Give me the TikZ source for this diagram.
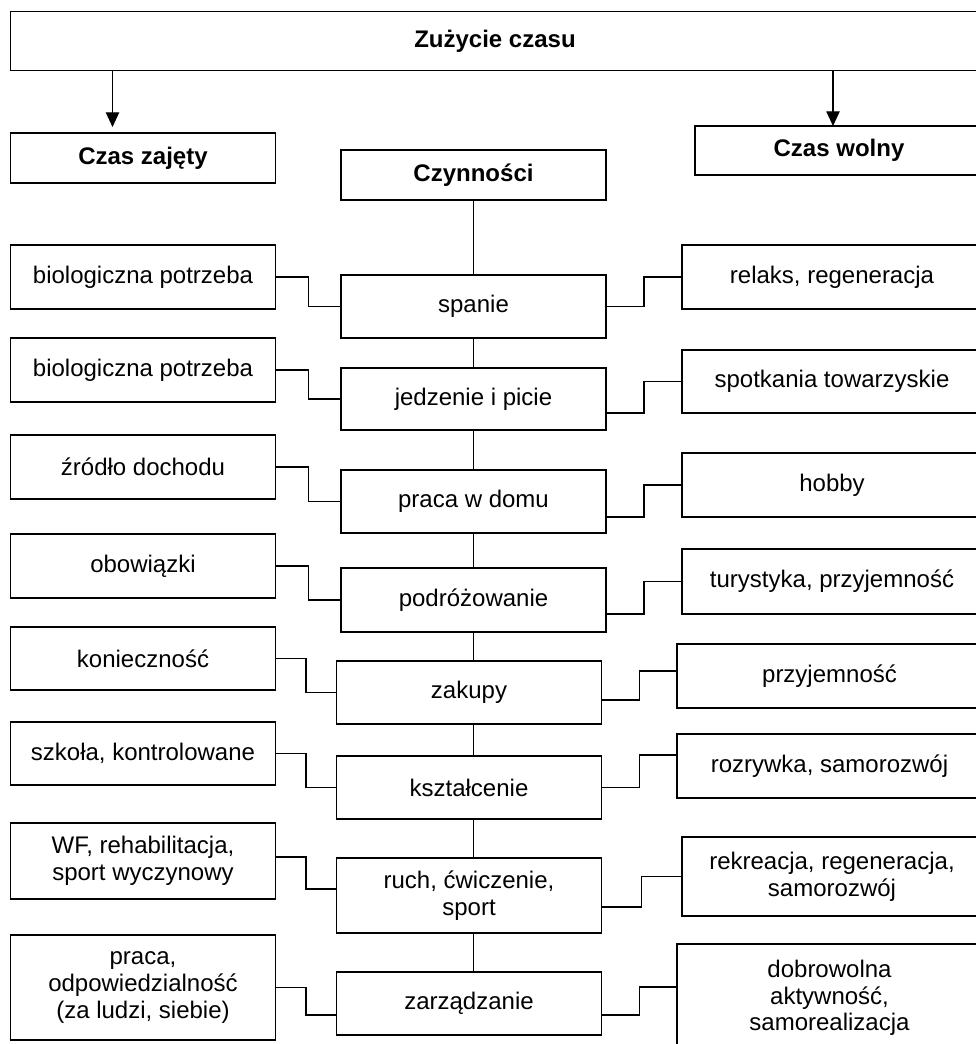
\documentclass[tikz,border=0pt]{standalone}
\usepackage{fontspec}
\setmainfont{Liberation Sans}
\usetikzlibrary{arrows.meta,calc}

\begin{document}
\begin{tikzpicture}[x=.75pt,y=-.75pt,>={Triangle[length=11pt,width=10pt]},line width=1pt,
  box/.style={draw,inner sep=0pt,outer sep=0pt,align=center,font=\fontsize{18}{20}\selectfont},
  hd/.style={box,font=\fontsize{18}{20}\selectfont\bfseries},
  mid/.style={box,minimum width=198.75pt},
  lft/.style={box,minimum width=198.75pt},
  rgt/.style={box,minimum width=225pt},
  elbow/.style={to path={-| ($(\tikztostart)!.5!(\tikztotarget)$) |- (\tikztotarget)}}]
  \useasboundingbox (0,0) rectangle (975,1044);
  % naglowki
  \node[hd,minimum width=726.75pt,minimum height=44.25pt] (top) at (495,41.2) {Zużycie czasu};
  \node[hd,minimum width=198.75pt,minimum height=37.5pt] (zaj) at (143,158) {Czas zajęty};
  \node[hd,minimum width=216pt,minimum height=36.75pt] (woln) at (839,150.5) {Czas wolny};
  \node[hd,minimum width=198.75pt,minimum height=37.5pt] (czyn) at (473.5,175) {Czynności};
  \coordinate (ztip) at (112.5,127);
  \coordinate (wtip) at (833,126);
  \draw[->] (top.south -| ztip) -- (ztip);
  \draw[->] (top.south -| wtip) -- (wtip);
  % czynnosci
  \node[mid,minimum height=47.25pt] (c1) at (473.5,306.5) {spanie};
  \node[mid,minimum height=46.5pt] (c2) at (473.5,399) {jedzenie i picie};
  \node[mid,minimum height=47.25pt] (c3) at (473.5,501.5) {praca w domu};
  \node[mid,minimum height=48pt] (c4) at (473.5,600) {podróżowanie};
  \node[mid,minimum height=47.25pt] (c5) at (469,692.5) {zakupy};
  \node[mid,minimum height=47.25pt] (c6) at (469,787.5) {kształcenie};
  \node[mid,minimum height=56.25pt] (c7) at (469,895.5) {ruch, ćwiczenie,\\sport};
  \node[mid,minimum height=47.25pt] (c8) at (469,1003.5) {zarządzanie};
  \draw (czyn.south) -- (c1.north -| czyn.south);
  \draw (c1.south -| czyn.south) -- (c2.north -| czyn.south);
  \draw (c2.south -| czyn.south) -- (c3.north -| czyn.south);
  \draw (c3.south -| czyn.south) -- (c4.north -| czyn.south);
  \draw (c4.south -| czyn.south) -- (c5.north -| czyn.south);
  \draw (c5.south -| czyn.south) -- (c6.north -| czyn.south);
  \draw (c6.south -| czyn.south) -- (c7.north -| czyn.south);
  \draw (c7.south -| czyn.south) -- (c8.north -| czyn.south);
  % czas zajety
  \node[lft,minimum height=48pt] (l1) at (143,277) {biologiczna potrzeba};
  \node[lft,minimum height=48pt] (l2) at (143,370) {biologiczna potrzeba};
  \node[lft,minimum height=48pt] (l3) at (143,467) {źródło dochodu};
  \node[lft,minimum height=48pt] (l4) at (143,566) {obowiązki};
  \node[lft,minimum height=47.25pt] (l5) at (143,658.5) {konieczność};
  \node[lft,minimum height=47.25pt] (l6) at (143,753.5) {szkoła, kontrolowane};
  \node[lft,minimum height=57pt] (l7) at (143,861) {WF, rehabilitacja,\\sport wyczynowy};
  \node[lft,minimum height=78.75pt] (l8) at (143,987.5) {praca,\\odpowiedzialność\\(za ludzi, siebie)};
  \draw[elbow] (l1.east) to (c1.west);
  \draw[elbow] (l2.east) to (c2.west);
  \draw[elbow] (l3.east) to (c3.west);
  \draw[elbow] (l4.east) to (c4.west);
  \draw[elbow] (l5.east) to (c5.west);
  \draw[elbow] (l6.east) to (c6.west);
  \draw[elbow] ([yshift=3pt]l7.east) to ([yshift=4.9pt]c7.west);
  \draw[elbow] (l8.east) to ([yshift=-8.6pt]c8.west);
  % czas wolny
  \node[rgt,minimum height=48pt] (r1) at (832,277) {relaks, regeneracja};
  \node[rgt,minimum height=47.25pt] (r2) at (832,381.5) {spotkania towarzyskie};
  \node[rgt,minimum height=48pt] (r3) at (832,485) {hobby};
  \node[rgt,minimum height=48.75pt] (r4) at (832,581.5) {turystyka, przyjemność};
  \node[rgt,minimum width=228.75pt,minimum height=48pt] (r5) at (829.5,676) {przyjemność};
  \node[rgt,minimum width=228.75pt,minimum height=48pt] (r6) at (829.5,766) {rozrywka, samorozwój};
  \node[rgt,minimum height=59.25pt] (r7) at (832,876.5) {rekreacja, regeneracja,\\samorozwój};
  \node[rgt,minimum width=228.75pt,minimum height=81pt] (r8) at (829.5,998) {dobrowolna\\aktywność,\\samorealizacja};
  \draw[elbow] (c1.east) to (r1.west);
  \draw[elbow] ([yshift=-10.5pt]c2.east) to (r2.west);
  \draw[elbow] ([yshift=-11.6pt]c3.east) to (r3.west);
  \draw[elbow] ([yshift=-10.5pt]c4.east) to (r4.west);
  \draw[elbow] ([yshift=-5.6pt]c5.east) to ([yshift=3.75pt]r5.west);
  \draw[elbow] (c6.east) to ([yshift=8.25pt]r6.west);
  \draw[elbow] ([yshift=-8.6pt]c7.east) to (r7.west);
  \draw[elbow] ([yshift=-8.6pt]c8.east) to ([yshift=8.25pt]r8.west);
\end{tikzpicture}
\end{document}
